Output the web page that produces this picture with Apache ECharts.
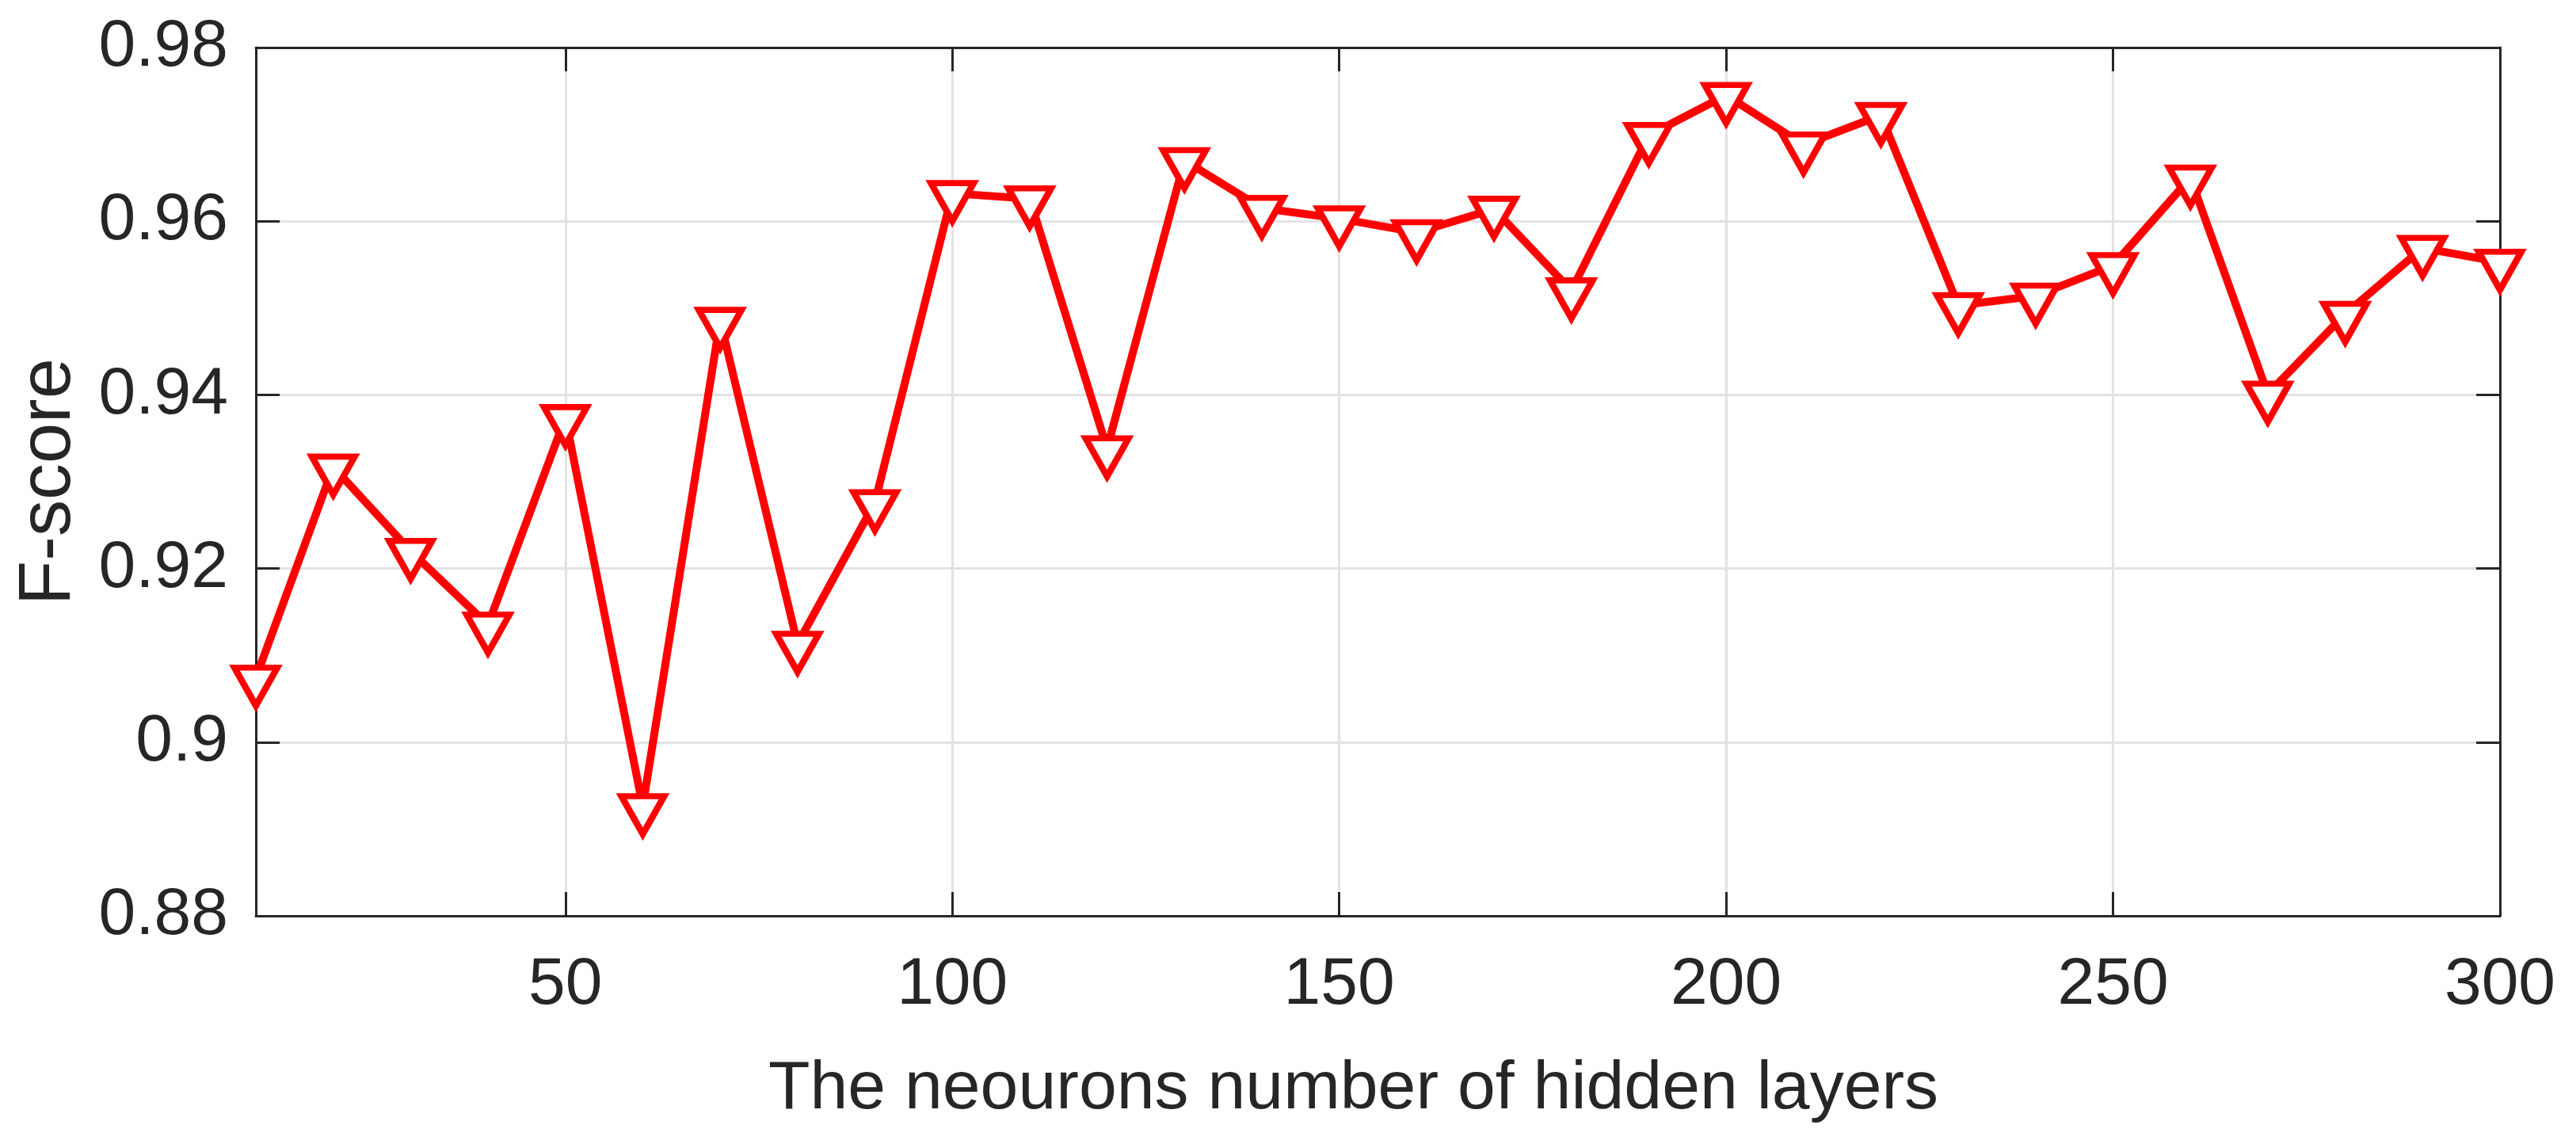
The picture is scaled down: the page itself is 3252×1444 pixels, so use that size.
<!DOCTYPE html>
<html>
<head>
<meta charset="utf-8">
<script src="https://cdn.jsdelivr.net/npm/echarts@6/dist/echarts.min.js"></script>
<style>
  html, body { margin: 0; padding: 0; background: #fff; }
  #chart { width: 3252px; height: 1444px; }
</style>
</head>
<body>
<div id="chart"></div>
<script>
// neuron counts of the hidden layer
const neurons = [10, 20, 30, 40, 50, 60, 70, 80, 90, 100,
  110, 120, 130, 140, 150, 160, 170, 180, 190, 200,
  210, 220, 230, 240, 250, 260, 270, 280, 290, 300]

// F-score
const fscore = [0.9074, 0.9317, 0.9220, 0.9135, 0.9374, 0.8926, 0.9486, 0.9113, 0.9276, 0.9632,
  0.9626, 0.9338, 0.9670, 0.9615, 0.9603, 0.9587, 0.9614, 0.9520, 0.9699, 0.9745,
  0.9688, 0.9722, 0.9503, 0.9514, 0.9549, 0.9650, 0.9401, 0.9493, 0.9569, 0.9553]

const xTicks = [50, 100, 150, 200, 250, 300]

const textColor = '#262626'
const font = 'Liberation Sans, Arial, sans-serif'

const chart = echarts.init(document.getElementById('chart'))

const frameLine = { show: true, onZero: false, lineStyle: { color: textColor, width: 3 } }
const gridLine = { show: true, lineStyle: { color: '#e2e2e2', width: 3 } }
const tick = { show: true, inside: true, length: 30, lineStyle: { color: textColor, width: 3 } }

chart.setOption({
  animation: false,
  backgroundColor: '#fff',
  grid: { left: 323, right: 96, top: 60, bottom: 288, containLabel: false, outerBoundsMode: 'none' },
  xAxis: [
    {
      type: 'value',
      min: 10,
      max: 300,
      position: 'bottom',
      name: 'The neourons number of hidden layers',
      nameLocation: 'middle',
      nameGap: 176,
      nameTextStyle: { color: textColor, fontSize: 86, fontFamily: font, padding: [0, 62, 0, 0] },
      axisLine: frameLine,
      axisTick: Object.assign({ customValues: xTicks }, tick),
      axisLabel: { customValues: xTicks, color: textColor, fontSize: 84, fontFamily: font, margin: 46 },
      splitLine: gridLine
    },
    {
      type: 'value',
      min: 10,
      max: 300,
      position: 'top',
      axisLine: frameLine,
      axisTick: Object.assign({ customValues: xTicks }, tick),
      axisLabel: { show: false },
      splitLine: { show: false }
    }
  ],
  yAxis: [
    {
      type: 'value',
      min: 0.88,
      max: 0.98,
      interval: 0.02,
      position: 'left',
      name: 'F-score',
      nameLocation: 'middle',
      nameGap: 214,
      nameTextStyle: { color: textColor, fontSize: 92, fontFamily: font },
      axisLine: frameLine,
      axisTick: tick,
      axisLabel: {
        color: textColor, fontSize: 84, fontFamily: font, margin: 35,
        formatter: (v) => String(+v.toFixed(2))
      },
      splitLine: gridLine
    },
    {
      type: 'value',
      min: 0.88,
      max: 0.98,
      interval: 0.02,
      position: 'right',
      axisLine: frameLine,
      axisTick: tick,
      axisLabel: { show: false },
      splitLine: { show: false }
    }
  ],
  series: [
    {
      type: 'line',
      xAxisIndex: 0,
      yAxisIndex: 0,
      data: neurons.map((n, i) => [n, fscore[i]]),
      symbol: 'triangle',
      symbolRotate: 180,
      symbolSize: [54, 48],
      symbolOffset: [0, 11],
      showAllSymbol: true,
      lineStyle: { color: '#ff0000', width: 10 },
      itemStyle: { color: '#ffffff', borderColor: '#ff0000', borderWidth: 8 },
      z: 5
    }
  ]
})
</script>
</body>
</html>
